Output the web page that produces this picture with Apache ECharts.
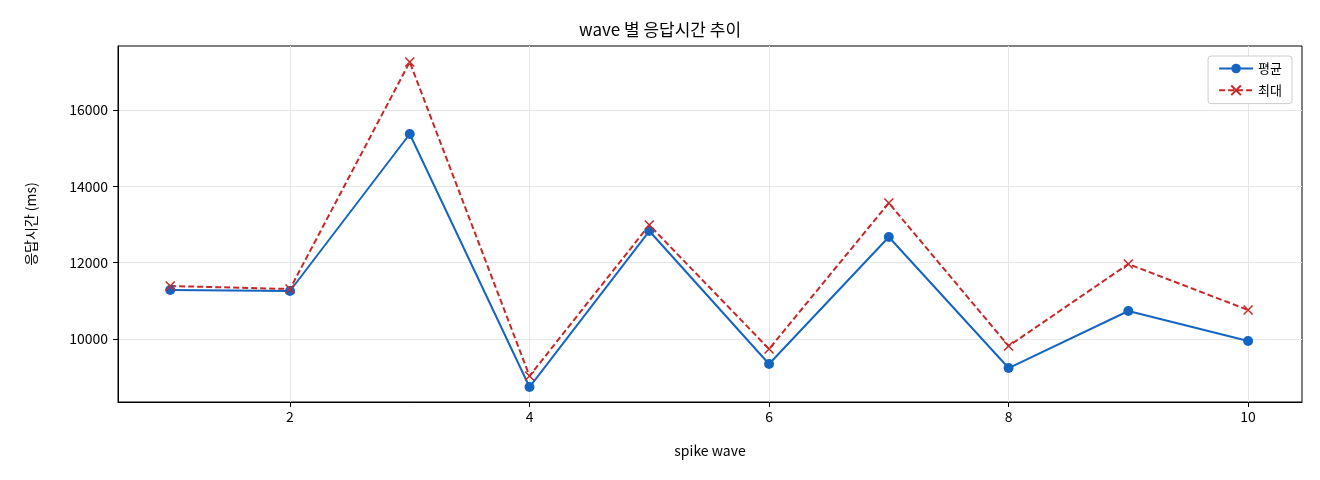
<!DOCTYPE html>
<html><head><meta charset="utf-8">
<script src="https://cdn.jsdelivr.net/npm/echarts@6/dist/echarts.min.js"></script>
<style>html,body{margin:0;background:#fff}#c{width:1320px;height:480px}</style>
</head><body><div id="c"></div>
<script>
const waves = [1,2,3,4,5,6,7,8,9,10];
const avgValues = [11284,11258,15371,8742,12829,9345,12672,9240,10734,9948];
const maxValues = [11389,11310,17257,9031,12987,9738,13563,9817,11965,10760];
const xTicks = [2,4,6,8,10];
const yTicks = [10000,12000,14000,16000];
const font = "'Noto Sans CJK KR', 'DejaVu Sans', sans-serif";
const chart = echarts.init(document.getElementById('c'));
chart.setOption({
  animation:false,
  textStyle:{fontFamily:font},
  title:{text:'wave 별 응답시간 추이',left:'center',top:16,textStyle:{fontSize:17,fontWeight:'normal',color:'#000',fontFamily:font}},
  legend:{right:28,top:56,orient:'vertical',itemGap:8,itemWidth:34,itemHeight:12,
    backgroundColor:'#fff',borderColor:'#ccc',borderWidth:1,borderRadius:3,padding:[6,10],
    textStyle:{fontSize:13,color:'#000'},
    data:['평균','최대']},
  grid:{left:118,right:18,top:46,bottom:78,show:true,borderColor:'#000',borderWidth:1,backgroundColor:'transparent'},
  xAxis:{type:'value',min:0.564,max:10.45,name:'spike wave',nameLocation:'middle',nameGap:42,
    nameTextStyle:{fontSize:14,color:'#000'},
    axisLine:{onZero:false,lineStyle:{color:'#000'}},
    axisTick:{customValues:xTicks,length:5,lineStyle:{color:'#000'}},
    axisLabel:{customValues:xTicks,fontSize:14,color:'#000',margin:8},
    splitLine:{show:true,lineStyle:{color:'#e6e6e6'}}},
  yAxis:{type:'value',min:8350,max:17677,name:'응답시간 (ms)',nameLocation:'middle',nameGap:80,
    nameTextStyle:{fontSize:14,color:'#000'},
    axisLine:{show:true,lineStyle:{color:'#000'}},
    axisTick:{show:true,customValues:yTicks,length:5,lineStyle:{color:'#000'}},
    axisLabel:{customValues:yTicks,fontSize:14,color:'#000',margin:10,formatter:v=>String(v)},
    splitLine:{show:true,lineStyle:{color:'#e6e6e6'}}},
  series:[
    {name:'평균',type:'line',data:waves.map((w,i)=>[w,avgValues[i]]),symbol:'circle',symbolSize:10,
     color:'#1565c0',lineStyle:{width:2,color:'#1565c0'},itemStyle:{color:'#1565c0'}},
    {name:'최대',type:'line',data:waves.map((w,i)=>[w,maxValues[i]]),
     symbol:'path://M0,0L10,10M10,0L0,10',symbolSize:9,
     color:'#c62828',lineStyle:{width:2,type:[6,3],color:'#c62828'},
     itemStyle:{color:'none',borderColor:'#c62828',borderWidth:1.5}}
  ]
});
</script></body></html>
